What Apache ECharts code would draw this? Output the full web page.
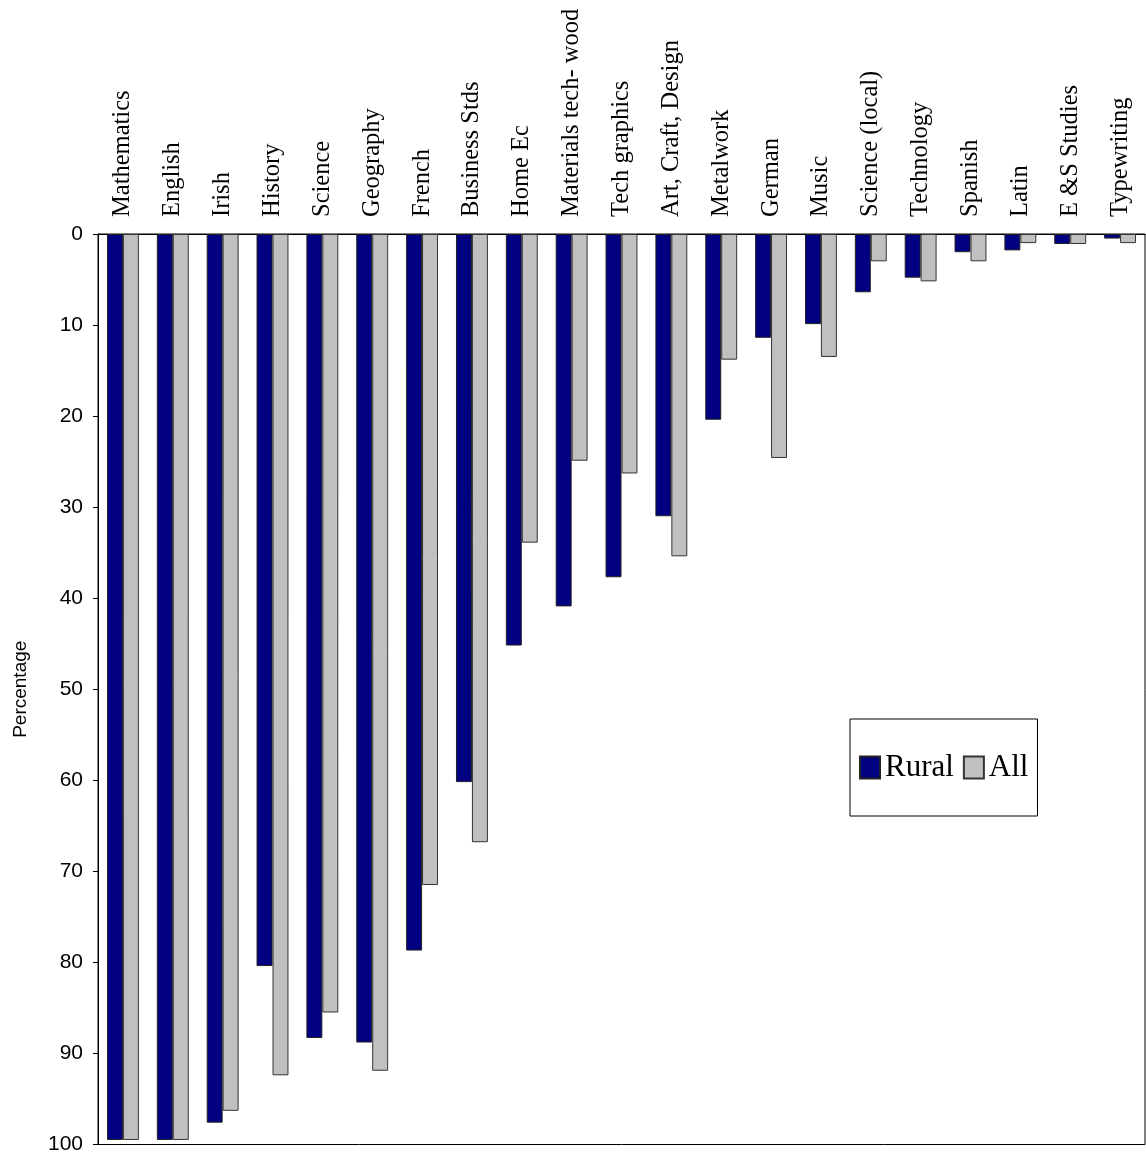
<!DOCTYPE html>
<html>
<head>
<meta charset="utf-8">
<title>Subjects taken: Rural vs All</title>
<script src="https://cdn.jsdelivr.net/npm/echarts@6/dist/echarts.min.js"></script>
<style>
  html, body { margin: 0; padding: 0; background: #fff; }
  #chart { width: 1146px; height: 1155px; }
</style>
</head>
<body>
<div id="chart"></div>
<script>
// Subject names, in the order they are plotted
const subjects = [
  'Mathematics', 'English', 'Irish', 'History', 'Science', 'Geography',
  'French', 'Business Stds', 'Home Ec', 'Materials tech- wood',
  'Tech graphics', 'Art, Craft, Design', 'Metalwork', 'German', 'Music',
  'Science (local)', 'Technology', 'Spanish', 'Latin', 'E &S Studies',
  'Typewriting'
];

// Percentage of schools offering each subject
const rural = [
  99.5, 99.5, 97.6, 80.4, 88.3, 88.8, 78.7, 60.2, 45.2, 40.9,
  37.7, 31.0, 20.4, 11.4, 9.9, 6.4, 4.8, 2.0, 1.8, 1.1, 0.5
];
const all = [
  99.5, 99.5, 96.3, 92.4, 85.5, 91.9, 71.5, 66.8, 33.9, 24.9,
  26.3, 35.4, 13.8, 24.6, 13.5, 3.0, 5.2, 3.0, 1.0, 1.1, 1.0
];

const seriesNames = ['Rural', 'All'];
const yTicks = { min: 0, max: 100, step: 10 };

const serif = "'Liberation Serif', 'Times New Roman', serif";
const sans = "'Liberation Sans', Arial, sans-serif";

const chart = echarts.init(document.getElementById('chart'));

chart.setOption({
  animation: false,
  backgroundColor: '#ffffff',
  grid: {
    left: 98,
    right: 1,
    top: 234,
    bottom: 8,
    show: true,
    borderColor: '#000',
    borderWidth: 1
  },
  legend: {
    data: seriesNames,
    left: 850,
    top: 719,
    orient: 'horizontal',
    itemWidth: 20,
    itemHeight: 22,
    itemGap: 9,
    padding: [33, 9, 33, 9],
    borderColor: '#000',
    borderWidth: 1,
    backgroundColor: '#fff',
    icon: 'rect',
    textStyle: {
      fontFamily: serif,
      fontSize: 31,
      color: '#000'
    }
  },
  xAxis: {
    type: 'category',
    position: 'top',
    data: subjects,
    axisLine: { show: true, lineStyle: { color: '#000', width: 1 } },
    axisTick: { show: false },
    splitLine: { show: false },
    axisLabel: {
      interval: 0,
      rotate: 90,
      margin: 17,
      fontFamily: serif,
      fontSize: 24.5,
      color: '#000'
    }
  },
  yAxis: {
    type: 'value',
    inverse: true,
    min: yTicks.min,
    max: yTicks.max,
    interval: yTicks.step,
    name: 'Percentage',
    nameLocation: 'middle',
    nameRotate: 90,
    nameGap: 68,
    nameTextStyle: {
      fontFamily: sans,
      fontSize: 19,
      color: '#000'
    },
    axisLine: { show: true, lineStyle: { color: '#000', width: 1 } },
    axisTick: { show: true, length: 5, inside: false, lineStyle: { color: '#000' } },
    splitLine: { show: false },
    axisLabel: {
      margin: 15,
      fontFamily: sans,
      fontSize: 21,
      color: '#000'
    }
  },
  series: [
    {
      name: seriesNames[0],
      type: 'bar',
      data: rural,
      barGap: '0%',
      barCategoryGap: '36%',
      itemStyle: { color: '#000080', borderColor: '#222', borderWidth: 1 }
    },
    {
      name: seriesNames[1],
      type: 'bar',
      data: all,
      barGap: '0%',
      barCategoryGap: '36%',
      itemStyle: { color: '#c0c0c0', borderColor: '#333', borderWidth: 1 }
    }
  ]
});
</script>
</body>
</html>
